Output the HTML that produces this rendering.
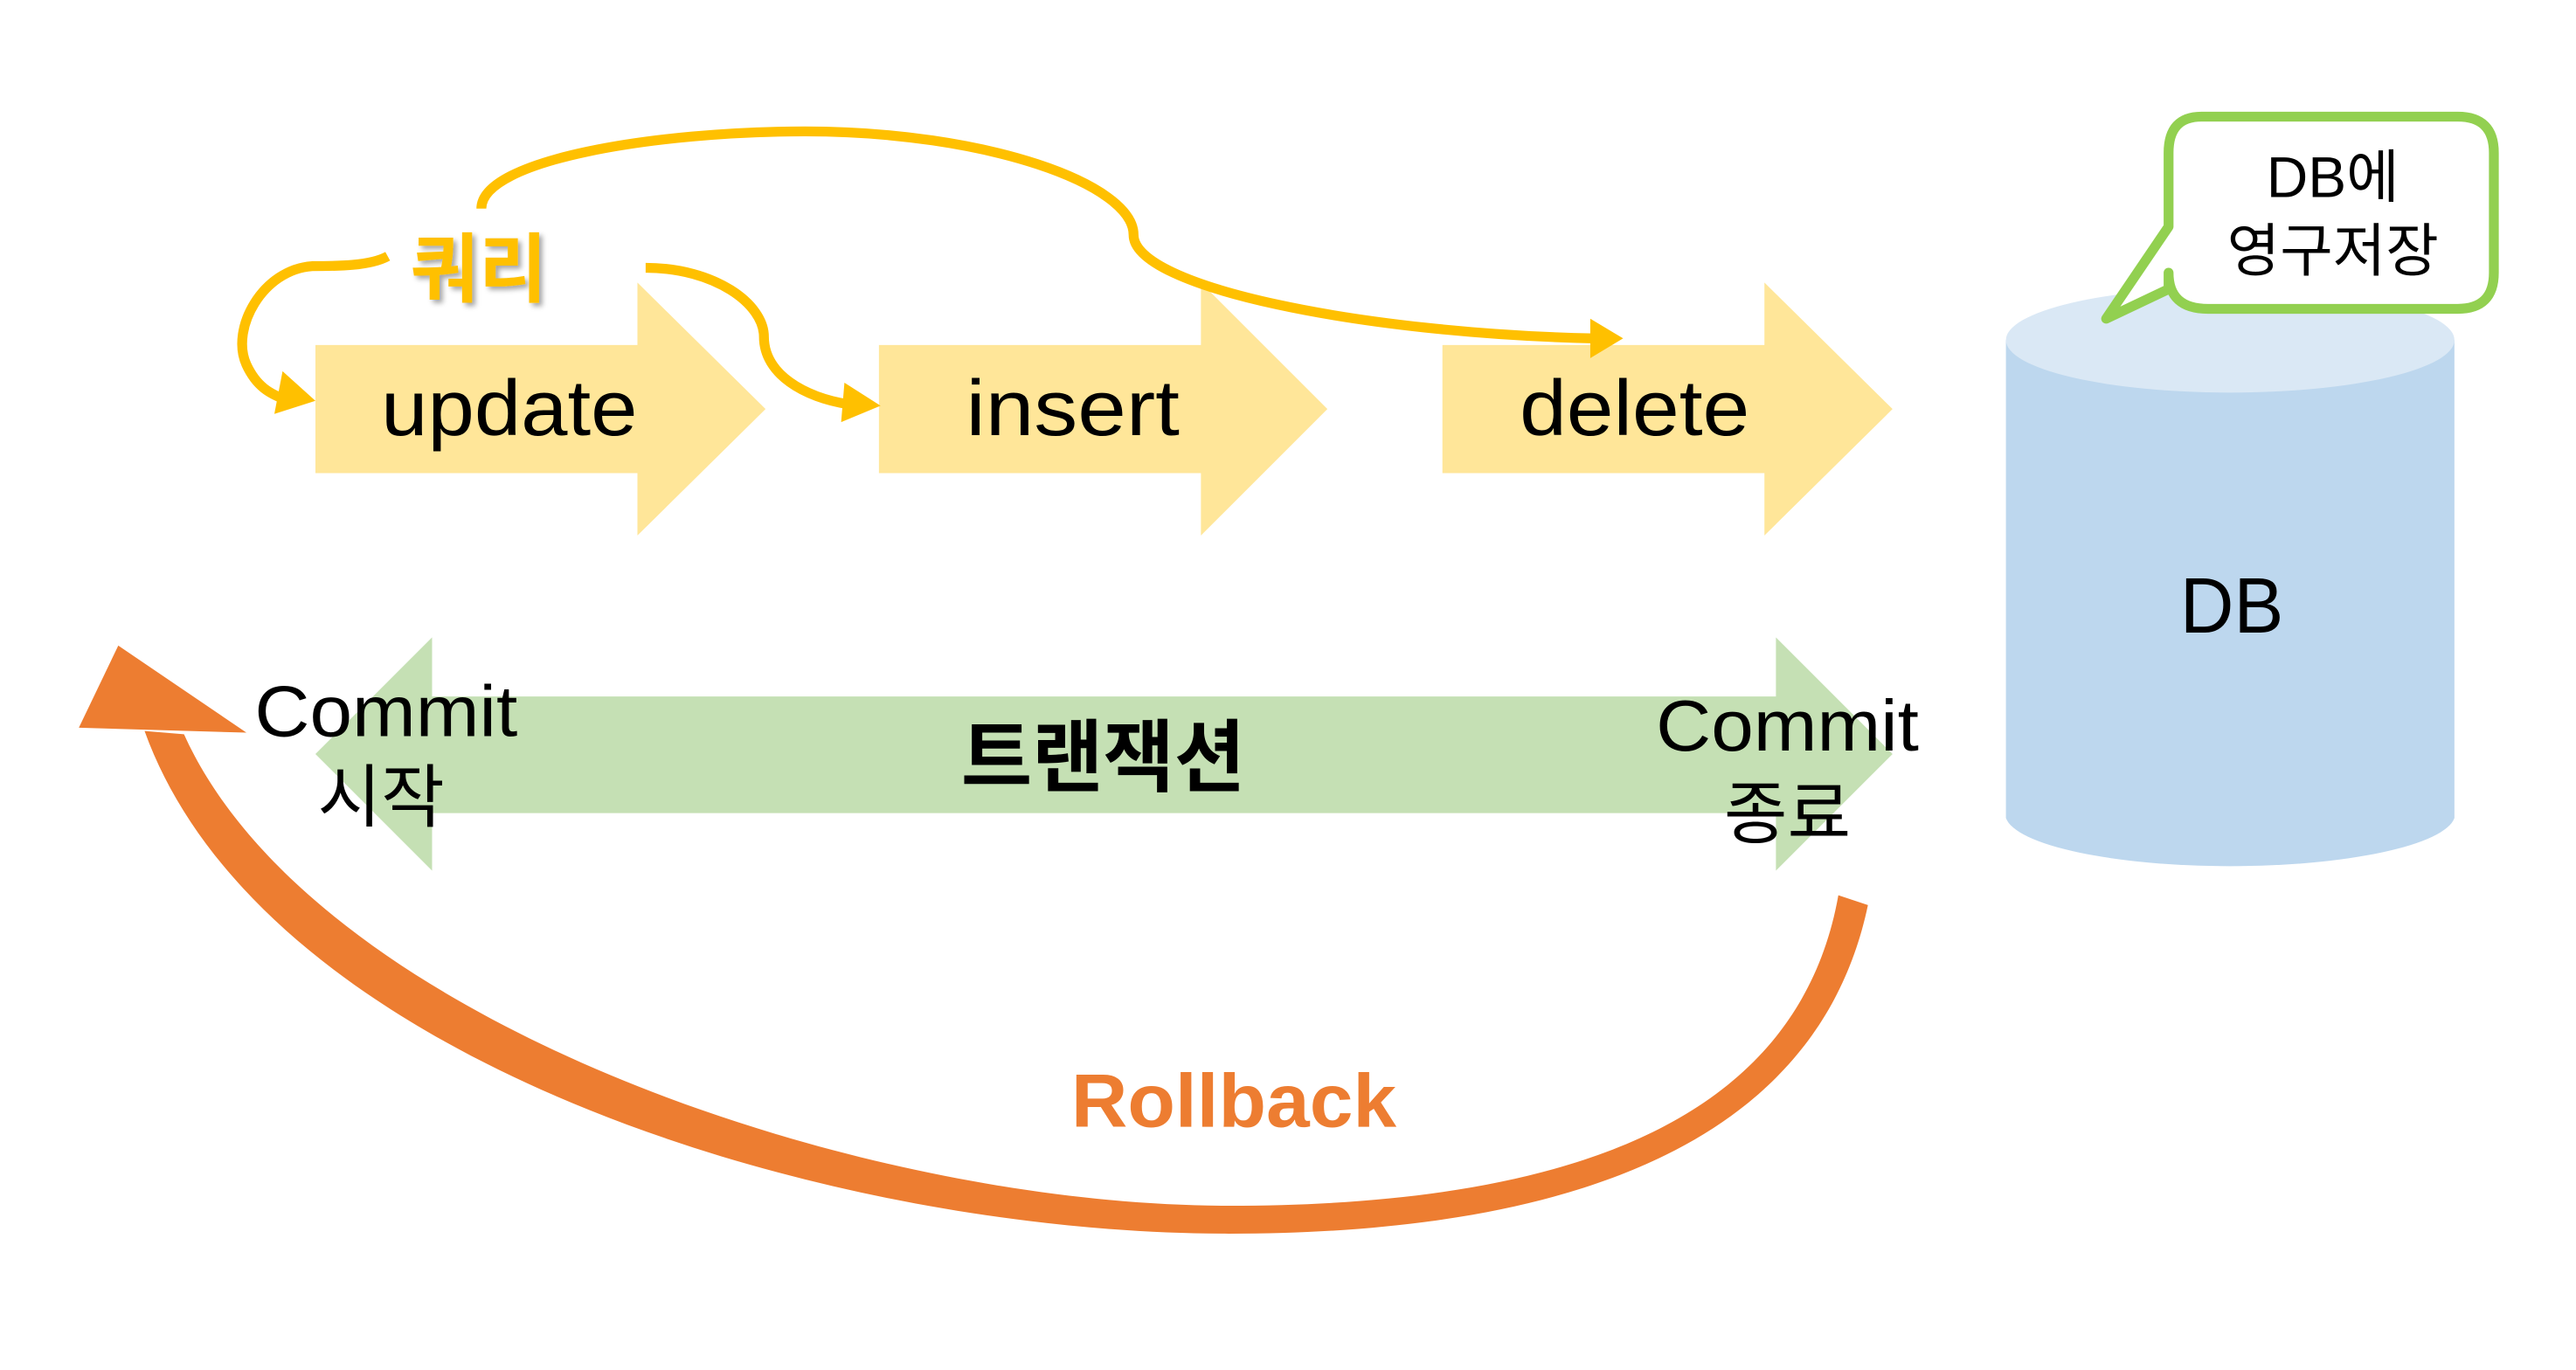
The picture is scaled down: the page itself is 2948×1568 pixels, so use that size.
<!DOCTYPE html>
<html><head><meta charset="utf-8"><style>
html,body{margin:0;padding:0;background:#fff;}
svg{display:block;}
text{font-family:"Liberation Sans","Noto Sans CJK KR","NanumGothic",sans-serif;}
</style></head><body>
<svg width="2948" height="1568" viewBox="0 0 1568 834" preserveAspectRatio="none" xmlns="http://www.w3.org/2000/svg">
<defs>
<filter id="sh" x="-20%" y="-20%" width="140%" height="140%"><feDropShadow dx="2" dy="2" stdDeviation="1.5" flood-color="#000" flood-opacity="0.35"/></filter>
</defs>
<polygon points="192,210 388,210 388,172 466,249 388,326 388,288 192,288" fill="#FFE699"/>
<polygon points="535,210 731,210 731,172 808,249 731,326 731,288 535,288" fill="#FFE699"/>
<polygon points="878,210 1074,210 1074,172 1152,249 1074,326 1074,288 878,288" fill="#FFE699"/>
<text x="232" y="265" font-size="48" textLength="156" lengthAdjust="spacingAndGlyphs" fill="#000">update</text>
<text x="588" y="265" font-size="48" textLength="130" lengthAdjust="spacingAndGlyphs" fill="#000">insert</text>
<text x="925" y="265" font-size="48" textLength="140" lengthAdjust="spacingAndGlyphs" fill="#000">delete</text>

<polygon points="192,459 263,388 263,424 1081,424 1081,388 1152,459 1081,530 1081,495 263,495 263,530" fill="#C5E0B4"/>
<text x="155" y="448" font-size="44" textLength="160" lengthAdjust="spacingAndGlyphs" fill="#000">Commit</text>
<text x="232" y="500" font-size="42" text-anchor="middle" fill="#000">시작</text>
<text x="1008" y="457" font-size="44" textLength="160" lengthAdjust="spacingAndGlyphs" fill="#000">Commit</text>
<text x="1088" y="510" font-size="42" text-anchor="middle" fill="#000">종료</text>
<text x="585" y="478" font-size="48" font-weight="bold" textLength="173" lengthAdjust="spacingAndGlyphs" fill="#000">트랜잭션</text>

<path d="M1221,207 L1221,498 A137,32 0 0 0 1494,498 L1494,207 Z" fill="#BDD7EE"/>
<ellipse cx="1357.5" cy="207" rx="136.5" ry="32" fill="#DAE8F5"/>
<text x="1327" y="385" font-size="48" textLength="63" lengthAdjust="spacingAndGlyphs" fill="#000">DB</text>

<path d="M1340,71 L1496,71 Q1518,71 1518,93 L1518,166 Q1518,188 1496,188 L1344,188 Q1320,188 1320,166 L1320,176 L1282,194 L1320,138 L1320,93 Q1320,71 1340,71 Z" fill="#fff" stroke="#92D050" stroke-width="6" stroke-linejoin="round"/>
<text x="1420" y="120" font-size="35" text-anchor="middle" fill="#000">DB에</text>
<text x="1420" y="165" font-size="35" text-anchor="middle" fill="#000">영구저장</text>

<g fill="none" stroke="#FFC000" stroke-width="6" stroke-linecap="butt">
<path d="M236,156 C225,162 205,162 190,162 C160,164 140,200 150,222 C156,235 164,240 176,244"/>
<path d="M393,163 C435,163 465,185 465,205 C465,228 490,242 516,246"/>
<path d="M293,127 C293,97 400,80 490,80 C600,80 690,112 690,143 C690,175 830,203 970,206"/>
</g>
<polygon points="192,244 167,252 172,226" fill="#FFC000"/>
<polygon points="536,247 512,257 514,233" fill="#FFC000"/>
<polygon points="988,206 968,218 968,194" fill="#FFC000"/>
<text x="250" y="180" font-size="46" font-weight="bold" textLength="83" lengthAdjust="spacingAndGlyphs" fill="#FFC000" filter="url(#sh)">쿼리</text>

<path d="M1119,545 C1095,680 960,734 748,734 C520,734 190,620 112,447 L88,445 C160,645 500,751 748,751 C985,751 1110,680 1137,551 Z" fill="#ED7D31"/>
<polygon points="48,443 72,393 150,446" fill="#ED7D31"/>
<text x="652" y="686" font-size="46" font-weight="bold" textLength="198" lengthAdjust="spacingAndGlyphs" fill="#ED7D31">Rollback</text>
</svg>
</body></html>
